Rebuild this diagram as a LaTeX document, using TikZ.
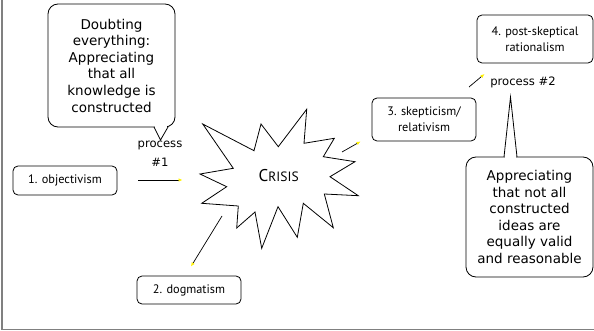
\documentclass[tikz,border=0pt]{standalone}
\usepackage{fontspec}
\setmainfont{DejaVu Sans}
\newfontfamily\gillfont{PT Sans}
\usetikzlibrary{arrows.meta, positioning, calc}
\definecolor{cframe}{HTML}{808080}
\definecolor{ctip}{HTML}{FFF200}
\tikzset{
  every picture/.style={line width=0.8pt},
  box/.style={draw, rounded corners=5pt, align=center, inner sep=0pt, minimum width=104pt, font=\gillfont\fontsize{12.3}{16}\selectfont},
  bubble/.style={draw, fill=white, rounded corners=10pt, align=center, inner sep=0pt, minimum width=127pt, font=\fontsize{13.5}{16.6}\selectfont},
  arrow/.style={-{Latex[length=4pt, width=3.5pt, color=ctip, fill=ctip]}, line width=0.7pt},
  note/.style={font=\fontsize{11.6}{19}\selectfont, align=center},
}
\begin{document}
\begin{tikzpicture}[x=1pt, y=-1pt,
  frameline/.style={draw=cframe, line width=1.3pt}]
  \useasboundingbox (0,0) rectangle (594,331);
  \draw[frameline] (2,0) -- (2,329.5) -- (594,329.5);
  % stages
  \node[box, minimum height=29pt] (objectiv) at (65,180.5) {1. objectivism};
  \node[box, minimum height=28pt] (dogma) at (189,290) {2. dogmatism};
  \node[box, minimum height=43pt] (skeptic) at (424,119.5) {3. skepticism/\\relativism};
  \node[box, minimum width=116pt, minimum height=48pt] (postsk) at (535,39) {4. post-skeptical\\rationalism};
  % crisis star
  \draw (202.7,124) -- (254,150.7) -- (261,124) -- (278.3,146.7) -- (306.7,109.3) -- (304,143.3)
    -- (334.3,138.3) -- (323.3,156.7) -- (355,161.7) -- (330,176.7) -- (358.3,195.7) -- (324.3,194)
    -- (333.3,227.7) -- (303.3,203.3) -- (297.3,237.3) -- (278,206.7) -- (261.7,248.3) -- (255,212)
    -- (236.7,228) -- (238.3,206) -- (201.7,203.3) -- (226.7,186.7) -- (200,174) -- (233.3,168.3) -- cycle;
  \node[font=\gillfont, inner sep=0pt] (crisis) at (278.7,175.7) {\fontsize{17}{17}\selectfont C\fontsize{13.5}{17}\selectfont RISIS};
  % processes
  \node[note] (proc1) at (160,153.5) {process\\\#1};
  \node[note] (proc2) at (523,82) {process \#2};
  % callouts
  \node[bubble, minimum height=123pt] (doubt) at (111.5,65.5)
    {Doubting\\everything:\\Appreciating\\that all\\knowledge is\\constructed};
  \fill[white] (154.8,125.5) rectangle (167.2,128.5);
  \draw (154,127) -- (160.5,140) -- (168,127);
  \node[bubble, minimum height=120pt] (valid) at (529.5,217)
    {Appreciating\\that not all\\constructed\\ideas are\\equally valid\\and reasonable};
  \fill[white] (504.8,155.5) rectangle (516.2,158.5);
  \draw (504,157) -- (510.5,97) -- (517,157);
  % connectors
  \coordinate (a1) at (138,180);   \coordinate (b1) at (182.5,180);
  \coordinate (a2) at (222,216);   \coordinate (b2) at (191,266.5);
  \coordinate (a3) at (342,152);   \coordinate (b3) at (360.5,141.5);
  \coordinate (a4) at (469,87);    \coordinate (b4) at (484.5,74);
  \foreach \i in {1,...,4} { \draw[arrow] (a\i) -- (b\i); }
\end{tikzpicture}
\end{document}
